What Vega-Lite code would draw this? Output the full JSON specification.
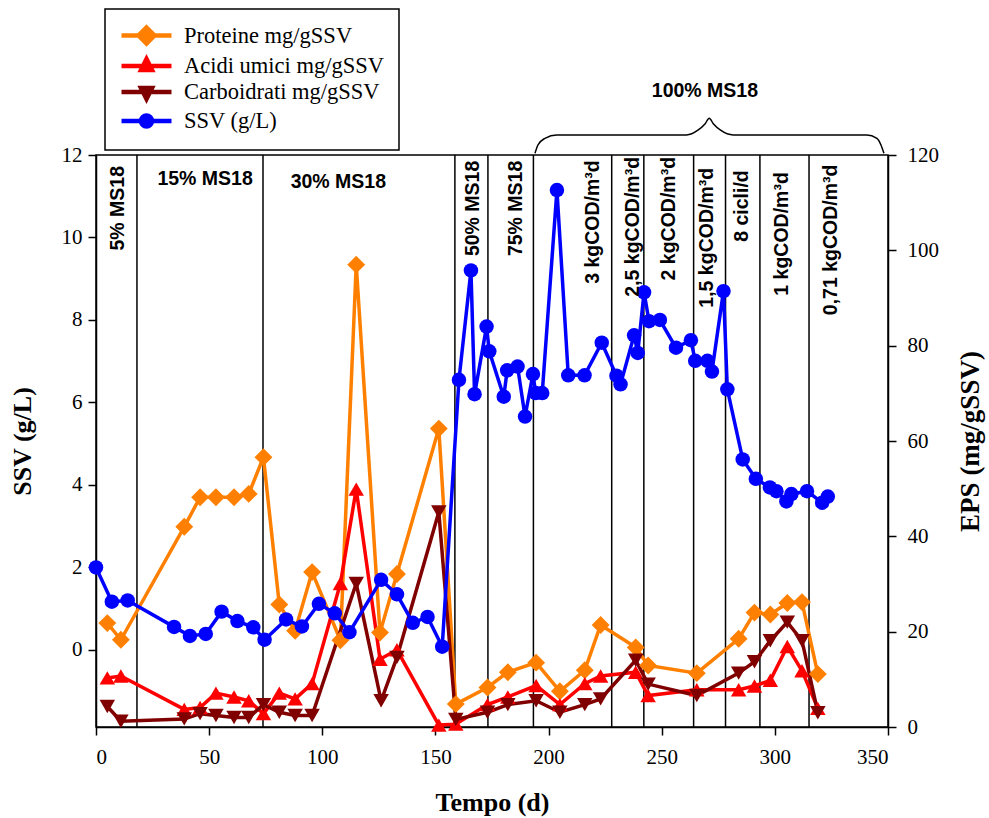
{
  "$schema": "https://vega.github.io/schema/vega-lite/v6.json",
  "width": 792,
  "height": 572,
  "autosize": {"type": "none"},
  "padding": {"left": 96, "top": 155, "right": 101, "bottom": 91},
  "background": "white",
  "config": {
    "view": {"stroke": "black", "strokeWidth": 1.5},
    "axis": {
      "domainColor": "black", "domainWidth": 1.5, "tickColor": "black", "tickWidth": 1.5, "tickSize": 8,
      "labelFont": "Liberation Serif", "labelFontSize": 21, "labelColor": "black",
      "titleFont": "Liberation Serif", "titleFontSize": 26, "titleFontWeight": "bold", "titleColor": "black",
      "grid": false, "labelPadding": 6
    },
    "legend": {
      "orient": "none", "legendX": 9, "legendY": -146,
      "strokeColor": "black", "strokeWidth": 1.5, "fillColor": "white", "padding": 14,
      "labelFont": "Liberation Serif", "labelFontSize": 22.5, "labelColor": "black", "labelLimit": 400,
      "symbolSize": 400, "symbolStrokeWidth": 4.5, "symbolOpacity": 1, "labelOffset": 40, "rowPadding": -3.5
    }
  },
  "datasets": {
    "phases": [{"t": 18.1}, {"t": 73.8}, {"t": 158.6}, {"t": 173.2}, {"t": 193.3}, {"t": 227.9}, {"t": 242.1}, {"t": 264.1}, {"t": 278.2}, {"t": 293.4}, {"t": 315.1}],
    "labelsV": [
      {"t": 9.7, "v": 117.7, "label": "5% MS18"},
      {"t": 166.6, "v": 118.8, "label": "50% MS18"},
      {"t": 185.5, "v": 118.8, "label": "75% MS18"},
      {"t": 219.6, "v": 118.9, "label": "3 kgCOD/m³d"},
      {"t": 237.3, "v": 119.6, "label": "2,5 kgCOD/m³d"},
      {"t": 253.2, "v": 119.6, "label": "2 kgCOD/m³d"},
      {"t": 270.0, "v": 117.3, "label": "1,5 kgCOD/m³d"},
      {"t": 285.5, "v": 116.8, "label": "8 cicli/d"},
      {"t": 303.1, "v": 116.4, "label": "1 kgCOD/m³d"},
      {"t": 324.8, "v": 118.0, "label": "0,71 kgCOD/m³d"}
    ],
    "labelsH": [
      {"t": 48.2, "v": 115.0, "label": "15% MS18"},
      {"t": 107.1, "v": 114.3, "label": "30% MS18"},
      {"t": 269.1, "v": 133.5, "label": "100% MS18"}
    ],
    "brace": [
      {"t": 194.0, "v": 120.35}, {"t": 195.3, "v": 122.1}, {"t": 198.4, "v": 123.5}, {"t": 203.6, "v": 124.2},
      {"t": 261.0, "v": 124.2}, {"t": 266.0, "v": 125.2}, {"t": 269.1, "v": 126.5}, {"t": 271.0, "v": 127.7},
      {"t": 272.9, "v": 126.5}, {"t": 276.0, "v": 125.2}, {"t": 281.6, "v": 124.2}, {"t": 340.6, "v": 124.2},
      {"t": 345.1, "v": 123.5}, {"t": 346.9, "v": 122.1}, {"t": 348.2, "v": 120.35}
    ],
    "eps": [
      {"t": 5, "series": "Proteine mg/gSSV", "eps": 21.8}, {"t": 11, "series": "Proteine mg/gSSV", "eps": 18.3},
      {"t": 39, "series": "Proteine mg/gSSV", "eps": 42.0}, {"t": 46, "series": "Proteine mg/gSSV", "eps": 48.2},
      {"t": 53, "series": "Proteine mg/gSSV", "eps": 48.2}, {"t": 61, "series": "Proteine mg/gSSV", "eps": 48.2},
      {"t": 67.5, "series": "Proteine mg/gSSV", "eps": 48.9}, {"t": 74, "series": "Proteine mg/gSSV", "eps": 56.6},
      {"t": 81, "series": "Proteine mg/gSSV", "eps": 25.7}, {"t": 88, "series": "Proteine mg/gSSV", "eps": 20.2},
      {"t": 95.5, "series": "Proteine mg/gSSV", "eps": 32.5}, {"t": 108, "series": "Proteine mg/gSSV", "eps": 18.2},
      {"t": 115, "series": "Proteine mg/gSSV", "eps": 97.0}, {"t": 125.5, "series": "Proteine mg/gSSV", "eps": 19.8},
      {"t": 133, "series": "Proteine mg/gSSV", "eps": 32.1}, {"t": 151.5, "series": "Proteine mg/gSSV", "eps": 62.6},
      {"t": 159, "series": "Proteine mg/gSSV", "eps": 4.8}, {"t": 173, "series": "Proteine mg/gSSV", "eps": 8.3},
      {"t": 182, "series": "Proteine mg/gSSV", "eps": 11.5}, {"t": 194.5, "series": "Proteine mg/gSSV", "eps": 13.5},
      {"t": 205, "series": "Proteine mg/gSSV", "eps": 7.5}, {"t": 216, "series": "Proteine mg/gSSV", "eps": 11.9},
      {"t": 223, "series": "Proteine mg/gSSV", "eps": 21.4}, {"t": 238.5, "series": "Proteine mg/gSSV", "eps": 16.7},
      {"t": 244, "series": "Proteine mg/gSSV", "eps": 12.9}, {"t": 265.5, "series": "Proteine mg/gSSV", "eps": 11.3},
      {"t": 284, "series": "Proteine mg/gSSV", "eps": 18.5}, {"t": 291, "series": "Proteine mg/gSSV", "eps": 24.0},
      {"t": 298, "series": "Proteine mg/gSSV", "eps": 23.6}, {"t": 305.5, "series": "Proteine mg/gSSV", "eps": 26.0},
      {"t": 312, "series": "Proteine mg/gSSV", "eps": 26.2}, {"t": 319, "series": "Proteine mg/gSSV", "eps": 11.1},

      {"t": 5, "series": "Acidi umici mg/gSSV", "eps": 10.3}, {"t": 11, "series": "Acidi umici mg/gSSV", "eps": 10.7},
      {"t": 39, "series": "Acidi umici mg/gSSV", "eps": 3.7}, {"t": 46, "series": "Acidi umici mg/gSSV", "eps": 4.1},
      {"t": 53, "series": "Acidi umici mg/gSSV", "eps": 7.1}, {"t": 61, "series": "Acidi umici mg/gSSV", "eps": 6.3},
      {"t": 67.5, "series": "Acidi umici mg/gSSV", "eps": 5.5}, {"t": 74, "series": "Acidi umici mg/gSSV", "eps": 2.8},
      {"t": 81, "series": "Acidi umici mg/gSSV", "eps": 7.1}, {"t": 88, "series": "Acidi umici mg/gSSV", "eps": 5.9},
      {"t": 95.5, "series": "Acidi umici mg/gSSV", "eps": 9.1}, {"t": 108, "series": "Acidi umici mg/gSSV", "eps": 30.1},
      {"t": 115, "series": "Acidi umici mg/gSSV", "eps": 49.9}, {"t": 125.5, "series": "Acidi umici mg/gSSV", "eps": 14.2},
      {"t": 133, "series": "Acidi umici mg/gSSV", "eps": 16.2}, {"t": 151.5, "series": "Acidi umici mg/gSSV", "eps": 0.4},
      {"t": 159, "series": "Acidi umici mg/gSSV", "eps": 0.6}, {"t": 173, "series": "Acidi umici mg/gSSV", "eps": 4.7},
      {"t": 182, "series": "Acidi umici mg/gSSV", "eps": 6.3}, {"t": 194.5, "series": "Acidi umici mg/gSSV", "eps": 8.7},
      {"t": 205, "series": "Acidi umici mg/gSSV", "eps": 4.7}, {"t": 216, "series": "Acidi umici mg/gSSV", "eps": 9.1},
      {"t": 223, "series": "Acidi umici mg/gSSV", "eps": 10.7}, {"t": 238.5, "series": "Acidi umici mg/gSSV", "eps": 11.5},
      {"t": 244, "series": "Acidi umici mg/gSSV", "eps": 6.6}, {"t": 265.5, "series": "Acidi umici mg/gSSV", "eps": 7.8},
      {"t": 284, "series": "Acidi umici mg/gSSV", "eps": 7.8}, {"t": 291, "series": "Acidi umici mg/gSSV", "eps": 8.6},
      {"t": 298, "series": "Acidi umici mg/gSSV", "eps": 9.8}, {"t": 305.5, "series": "Acidi umici mg/gSSV", "eps": 16.9},
      {"t": 312, "series": "Acidi umici mg/gSSV", "eps": 11.8}, {"t": 319, "series": "Acidi umici mg/gSSV", "eps": 3.9},

      {"t": 5, "series": "Carboidrati mg/gSSV", "eps": 4.3}, {"t": 11, "series": "Carboidrati mg/gSSV", "eps": 1.2},
      {"t": 39, "series": "Carboidrati mg/gSSV", "eps": 1.7}, {"t": 46, "series": "Carboidrati mg/gSSV", "eps": 2.8},
      {"t": 53, "series": "Carboidrati mg/gSSV", "eps": 2.4}, {"t": 61, "series": "Carboidrati mg/gSSV", "eps": 2.0},
      {"t": 67.5, "series": "Carboidrati mg/gSSV", "eps": 2.0}, {"t": 74, "series": "Carboidrati mg/gSSV", "eps": 4.7},
      {"t": 81, "series": "Carboidrati mg/gSSV", "eps": 3.1}, {"t": 88, "series": "Carboidrati mg/gSSV", "eps": 2.4},
      {"t": 95.5, "series": "Carboidrati mg/gSSV", "eps": 2.4}, {"t": 115, "series": "Carboidrati mg/gSSV", "eps": 30.1},
      {"t": 126, "series": "Carboidrati mg/gSSV", "eps": 5.5}, {"t": 133, "series": "Carboidrati mg/gSSV", "eps": 14.6},
      {"t": 151.5, "series": "Carboidrati mg/gSSV", "eps": 45.1}, {"t": 159, "series": "Carboidrati mg/gSSV", "eps": 1.6},
      {"t": 173, "series": "Carboidrati mg/gSSV", "eps": 3.1}, {"t": 182, "series": "Carboidrati mg/gSSV", "eps": 4.7},
      {"t": 194.5, "series": "Carboidrati mg/gSSV", "eps": 5.5}, {"t": 205, "series": "Carboidrati mg/gSSV", "eps": 3.1},
      {"t": 216, "series": "Carboidrati mg/gSSV", "eps": 4.7}, {"t": 223, "series": "Carboidrati mg/gSSV", "eps": 5.9},
      {"t": 238.5, "series": "Carboidrati mg/gSSV", "eps": 14.0}, {"t": 244, "series": "Carboidrati mg/gSSV", "eps": 9.0},
      {"t": 265.5, "series": "Carboidrati mg/gSSV", "eps": 6.6}, {"t": 284, "series": "Carboidrati mg/gSSV", "eps": 11.3},
      {"t": 291, "series": "Carboidrati mg/gSSV", "eps": 13.7}, {"t": 298, "series": "Carboidrati mg/gSSV", "eps": 18.1},
      {"t": 305.5, "series": "Carboidrati mg/gSSV", "eps": 22.0}, {"t": 312, "series": "Carboidrati mg/gSSV", "eps": 18.1},
      {"t": 319, "series": "Carboidrati mg/gSSV", "eps": 3.0}
    ],
    "ssv": [
      {"t": 0, "series": "SSV (g/L)", "ssv": 2.0}, {"t": 7, "series": "SSV (g/L)", "ssv": 1.17},
      {"t": 14, "series": "SSV (g/L)", "ssv": 1.2}, {"t": 34.5, "series": "SSV (g/L)", "ssv": 0.56},
      {"t": 41.5, "series": "SSV (g/L)", "ssv": 0.34}, {"t": 48.5, "series": "SSV (g/L)", "ssv": 0.39},
      {"t": 55.5, "series": "SSV (g/L)", "ssv": 0.93}, {"t": 62.5, "series": "SSV (g/L)", "ssv": 0.7},
      {"t": 69.5, "series": "SSV (g/L)", "ssv": 0.55}, {"t": 74.5, "series": "SSV (g/L)", "ssv": 0.25},
      {"t": 84, "series": "SSV (g/L)", "ssv": 0.74}, {"t": 91, "series": "SSV (g/L)", "ssv": 0.57},
      {"t": 98.5, "series": "SSV (g/L)", "ssv": 1.12}, {"t": 105.5, "series": "SSV (g/L)", "ssv": 0.89},
      {"t": 112, "series": "SSV (g/L)", "ssv": 0.43}, {"t": 126, "series": "SSV (g/L)", "ssv": 1.7},
      {"t": 133, "series": "SSV (g/L)", "ssv": 1.35}, {"t": 140, "series": "SSV (g/L)", "ssv": 0.66},
      {"t": 146.5, "series": "SSV (g/L)", "ssv": 0.8}, {"t": 153, "series": "SSV (g/L)", "ssv": 0.08},
      {"t": 160.4, "series": "SSV (g/L)", "ssv": 6.55}, {"t": 165.7, "series": "SSV (g/L)", "ssv": 9.2},
      {"t": 167.3, "series": "SSV (g/L)", "ssv": 6.2}, {"t": 172.6, "series": "SSV (g/L)", "ssv": 7.84},
      {"t": 173.8, "series": "SSV (g/L)", "ssv": 7.24}, {"t": 180.2, "series": "SSV (g/L)", "ssv": 6.14},
      {"t": 181.7, "series": "SSV (g/L)", "ssv": 6.78}, {"t": 186.3, "series": "SSV (g/L)", "ssv": 6.87},
      {"t": 189.6, "series": "SSV (g/L)", "ssv": 5.66}, {"t": 193.1, "series": "SSV (g/L)", "ssv": 6.69},
      {"t": 194.3, "series": "SSV (g/L)", "ssv": 6.23}, {"t": 197.2, "series": "SSV (g/L)", "ssv": 6.23},
      {"t": 203.7, "series": "SSV (g/L)", "ssv": 11.15}, {"t": 208.7, "series": "SSV (g/L)", "ssv": 6.66},
      {"t": 215.9, "series": "SSV (g/L)", "ssv": 6.66}, {"t": 223.5, "series": "SSV (g/L)", "ssv": 7.45},
      {"t": 230.0, "series": "SSV (g/L)", "ssv": 6.65}, {"t": 231.8, "series": "SSV (g/L)", "ssv": 6.44},
      {"t": 237.8, "series": "SSV (g/L)", "ssv": 7.63}, {"t": 239.4, "series": "SSV (g/L)", "ssv": 7.2},
      {"t": 242.2, "series": "SSV (g/L)", "ssv": 8.67}, {"t": 244.4, "series": "SSV (g/L)", "ssv": 7.97},
      {"t": 249.2, "series": "SSV (g/L)", "ssv": 8.0}, {"t": 256.3, "series": "SSV (g/L)", "ssv": 7.33},
      {"t": 262.9, "series": "SSV (g/L)", "ssv": 7.51}, {"t": 264.8, "series": "SSV (g/L)", "ssv": 7.01},
      {"t": 270.2, "series": "SSV (g/L)", "ssv": 7.01}, {"t": 272.2, "series": "SSV (g/L)", "ssv": 6.75},
      {"t": 277.3, "series": "SSV (g/L)", "ssv": 8.7}, {"t": 279.0, "series": "SSV (g/L)", "ssv": 6.32},
      {"t": 285.8, "series": "SSV (g/L)", "ssv": 4.62}, {"t": 291.6, "series": "SSV (g/L)", "ssv": 4.15},
      {"t": 297.8, "series": "SSV (g/L)", "ssv": 3.94}, {"t": 300.7, "series": "SSV (g/L)", "ssv": 3.85},
      {"t": 305.1, "series": "SSV (g/L)", "ssv": 3.6}, {"t": 307.3, "series": "SSV (g/L)", "ssv": 3.78},
      {"t": 314.2, "series": "SSV (g/L)", "ssv": 3.85}, {"t": 320.9, "series": "SSV (g/L)", "ssv": 3.57},
      {"t": 323.4, "series": "SSV (g/L)", "ssv": 3.72}
    ]
  },
  "layer": [
    {
      "data": {"name": "phases"},
      "mark": {"type": "rule", "color": "black", "strokeWidth": 1.5},
      "encoding": {
        "x": {"field": "t", "type": "quantitative", "scale": {"domain": [0, 350], "nice": false, "zero": false}, "axis": {"title": "Tempo (d)", "values": [0, 50, 100, 150, 200, 250, 300, 350], "labelFont": "Liberation Serif", "labelPadding": 11, "titlePadding": 22}}
      }
    },
    {
      "data": {"name": "eps"},
      "encoding": {
        "x": {"field": "t", "type": "quantitative", "scale": {"domain": [0, 350], "nice": false, "zero": false}, "axis": {"title": "Tempo (d)", "values": [0, 50, 100, 150, 200, 250, 300, 350], "labelFont": "Liberation Serif", "labelPadding": 11, "titlePadding": 22}},
        "y": {"field": "eps", "type": "quantitative", "scale": {"domain": [0, 120], "nice": false}, "axis": {"orient": "right", "title": "EPS (mg/gSSV)", "titleAngle": 270, "titleFontSize": 27, "values": [0, 20, 40, 60, 80, 100, 120], "labelFont": "Liberation Serif", "labelPadding": 11, "titlePadding": 46}},
        "color": {
          "field": "series", "type": "nominal",
          "scale": {"domain": ["Proteine mg/gSSV", "Acidi umici mg/gSSV", "Carboidrati mg/gSSV", "SSV (g/L)"], "range": ["#FF8000", "#FF0000", "#800000", "#0000FF"]},
          "legend": {"title": null}
        }
      },
      "layer": [
        {"mark": {"type": "line", "strokeWidth": 3.5}},
        {"transform": [{"filter": "datum.series === 'Proteine mg/gSSV'"}], "mark": {"type": "point", "shape": "diamond", "size": 320, "filled": true, "opacity": 1}},
        {"transform": [{"filter": "datum.series === 'Acidi umici mg/gSSV'"}], "mark": {"type": "point", "shape": "triangle-up", "size": 240, "filled": true, "opacity": 1}},
        {"transform": [{"filter": "datum.series === 'Carboidrati mg/gSSV'"}], "mark": {"type": "point", "shape": "triangle-down", "size": 240, "filled": true, "opacity": 1}}
      ]
    },
    {
      "data": {"name": "ssv"},
      "encoding": {
        "x": {"field": "t", "type": "quantitative", "scale": {"domain": [0, 350], "nice": false, "zero": false}, "axis": {"title": "Tempo (d)", "values": [0, 50, 100, 150, 200, 250, 300, 350], "labelFont": "Liberation Serif", "labelPadding": 11, "titlePadding": 22}},
        "y": {"field": "ssv", "type": "quantitative", "scale": {"domain": [-1.867, 12], "nice": false, "zero": false}, "axis": {"orient": "left", "title": "SSV (g/L)", "values": [0, 2, 4, 6, 8, 10, 12], "labelFont": "Liberation Serif", "labelPadding": 6, "titlePadding": 26}},
        "color": {
          "field": "series", "type": "nominal",
          "scale": {"domain": ["Proteine mg/gSSV", "Acidi umici mg/gSSV", "Carboidrati mg/gSSV", "SSV (g/L)"], "range": ["#FF8000", "#FF0000", "#800000", "#0000FF"]},
          "legend": {"title": null}
        }
      },
      "layer": [
        {"mark": {"type": "line", "strokeWidth": 3.5}},
        {"mark": {"type": "point", "shape": "circle", "size": 210, "filled": true, "opacity": 1}}
      ]
    },
    {
      "data": {"name": "eps"},
      "transform": [{"filter": "datum.t < -1000"}],
      "mark": {"type": "point", "filled": true, "opacity": 1, "strokeWidth": 4.5},
      "encoding": {
        "x": {"field": "t", "type": "quantitative", "scale": {"domain": [0, 350], "nice": false, "zero": false}, "axis": {"title": "Tempo (d)", "values": [0, 50, 100, 150, 200, 250, 300, 350], "labelFont": "Liberation Serif", "labelPadding": 11, "titlePadding": 22}},
        "fill": {"field": "series", "type": "nominal", "scale": {"domain": ["Proteine mg/gSSV", "Acidi umici mg/gSSV", "Carboidrati mg/gSSV", "SSV (g/L)"], "range": ["#FF8000", "#FF0000", "#800000", "#0000FF"]}, "legend": {"title": null}},
        "stroke": {"field": "series", "type": "nominal", "scale": {"domain": ["Proteine mg/gSSV", "Acidi umici mg/gSSV", "Carboidrati mg/gSSV", "SSV (g/L)"], "range": ["#FF8000", "#FF0000", "#800000", "#0000FF"]}, "legend": {"title": null}},
        "shape": {"field": "series", "type": "nominal", "scale": {"domain": ["Proteine mg/gSSV", "Acidi umici mg/gSSV", "Carboidrati mg/gSSV", "SSV (g/L)"], "range": [
          "M-1,0L4,0M1.5,-0.8L2.3,0L1.5,0.8L0.7,0Z",
          "M-1,0L4,0M1.5,-0.7L2.05,0.4L0.95,0.4Z",
          "M-1,0L4,0M1.5,0.7L2.05,-0.4L0.95,-0.4Z",
          "M-1,0L4,0M0.95,0A0.55,0.55,0,1,0,2.05,0A0.55,0.55,0,1,0,0.95,0Z"
        ]}, "legend": {"title": null}}
      }
    },
    {
      "data": {"name": "labelsV"},
      "mark": {"type": "text", "angle": 270, "align": "right", "baseline": "middle", "font": "Liberation Sans", "fontSize": 19.5, "fontWeight": "bold", "color": "black"},
      "encoding": {
        "x": {"field": "t", "type": "quantitative", "scale": {"domain": [0, 350], "nice": false, "zero": false}, "axis": {"title": "Tempo (d)", "values": [0, 50, 100, 150, 200, 250, 300, 350], "labelFont": "Liberation Serif", "labelPadding": 11, "titlePadding": 22}},
        "y": {"field": "v", "type": "quantitative", "scale": {"domain": [0, 120], "nice": false}, "axis": null},
        "text": {"field": "label"}
      }
    },
    {
      "data": {"name": "labelsH"},
      "mark": {"type": "text", "align": "center", "baseline": "middle", "font": "Liberation Sans", "fontSize": 19.5, "fontWeight": "bold", "color": "black", "clip": false},
      "encoding": {
        "x": {"field": "t", "type": "quantitative", "scale": {"domain": [0, 350], "nice": false, "zero": false}, "axis": {"title": "Tempo (d)", "values": [0, 50, 100, 150, 200, 250, 300, 350], "labelFont": "Liberation Serif", "labelPadding": 11, "titlePadding": 22}},
        "y": {"field": "v", "type": "quantitative", "scale": {"domain": [0, 120], "nice": false}, "axis": null},
        "text": {"field": "label"}
      }
    },
    {
      "data": {"name": "brace"},
      "mark": {"type": "line", "color": "black", "strokeWidth": 1.5, "interpolate": "monotone", "clip": false},
      "encoding": {
        "x": {"field": "t", "type": "quantitative", "scale": {"domain": [0, 350], "nice": false, "zero": false}, "axis": {"title": "Tempo (d)", "values": [0, 50, 100, 150, 200, 250, 300, 350], "labelFont": "Liberation Serif", "labelPadding": 11, "titlePadding": 22}},
        "y": {"field": "v", "type": "quantitative", "scale": {"domain": [0, 120], "nice": false}, "axis": null}
      }
    }
  ],
  "resolve": {"scale": {"y": "independent"}, "axis": {"y": "independent"}}
}
